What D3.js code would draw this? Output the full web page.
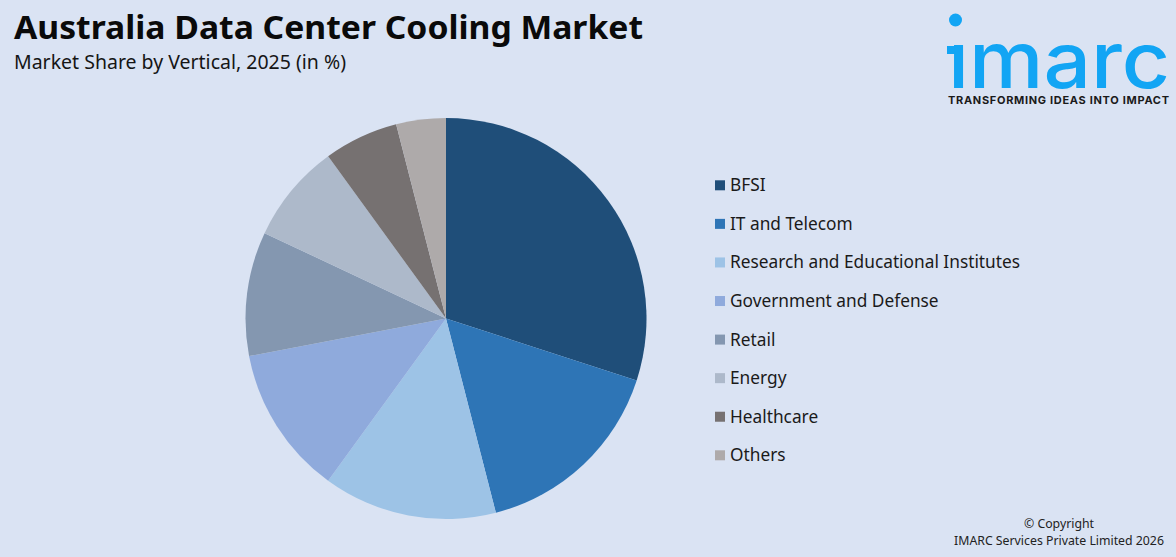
<!DOCTYPE html>
<html><head><meta charset="utf-8">
<script src="https://cdn.jsdelivr.net/npm/d3@7"></script>
<style>html,body{margin:0;padding:0;background:#dae3f3}svg{display:block}text{font-family:"Noto Sans",sans-serif}</style>
</head><body><svg id="c" width="1176" height="557"></svg>
<script>
const categories=["BFSI","IT and Telecom","Research and Educational Institutes","Government and Defense","Retail","Energy","Healthcare","Others"];
const shares=[30,16,14,12,10,8,6,4];
const colors=["#1f4e79","#2e75b6","#9dc3e6","#8faadc","#8497b0","#adb9ca","#767171","#aeaaaa"];
const title="Australia Data Center Cooling Market";
const subtitle="Market Share by Vertical, 2025 (in %)";
const tagline="TRANSFORMING IDEAS INTO IMPACT";
const copyright=["© Copyright","IMARC Services Private Limited 2026"];

const svg=d3.select("#c");
svg.append("rect").attr("width",1176).attr("height",557).attr("fill","#dae3f3");
svg.append("text").attr("x",14).attr("y",39).attr("font-size",33).attr("font-weight",700).attr("fill","#0a0a0a").attr("textLength",629).attr("lengthAdjust","spacingAndGlyphs").text(title);
svg.append("text").attr("x",14).attr("y",69).attr("font-size",20).attr("fill","#151515").attr("textLength",332).attr("lengthAdjust","spacingAndGlyphs").text(subtitle);

const pie=d3.pie().sort(null).value(d=>d)(shares);
const arc=d3.arc().innerRadius(0).outerRadius(200.5);
svg.append("g").attr("transform","translate(446,318.5)").selectAll("path").data(pie).join("path").attr("d",arc).attr("fill",(d,i)=>colors[i]);

const y=d3.scalePoint().domain(categories).range([185.3,455.3]);
const lg=svg.append("g").selectAll("g").data(categories).join("g").attr("transform",d=>`translate(715,${y(d)})`);
lg.append("rect").attr("y",-5).attr("width",10).attr("height",10).attr("fill",(d,i)=>colors[i]);
lg.append("text").attr("x",15).attr("y",6).attr("font-size",17.3).attr("fill","#1a1a1a").text(d=>d);

const logo=svg.append("g");
logo.append("circle").attr("cx",955.5).attr("cy",20).attr("r",6.5).attr("fill","#12a5f4");
logo.append("rect").attr("x",947).attr("y",46).attr("width",10).attr("height",8).attr("fill","#12a5f4");
logo.append("text").attr("x",948).attr("y",88).attr("font-size",78).attr("font-weight",500).attr("fill","#12a5f4").attr("style","font-family:Inter,sans-serif").attr("textLength",222).attr("lengthAdjust","spacingAndGlyphs").text("ımarc");
logo.append("text").attr("x",948).attr("y",104).attr("font-size",11).attr("font-weight",700).attr("fill","#1a1a1a").attr("style","font-family:Inter,sans-serif").attr("textLength",221).attr("lengthAdjust","spacing").text(tagline);

svg.append("g").selectAll("text").data(copyright).join("text").attr("x",1059).attr("y",(d,i)=>528+i*17).attr("text-anchor","middle").attr("font-size",12.3).attr("fill","#222").text(d=>d);
</script></body></html>
